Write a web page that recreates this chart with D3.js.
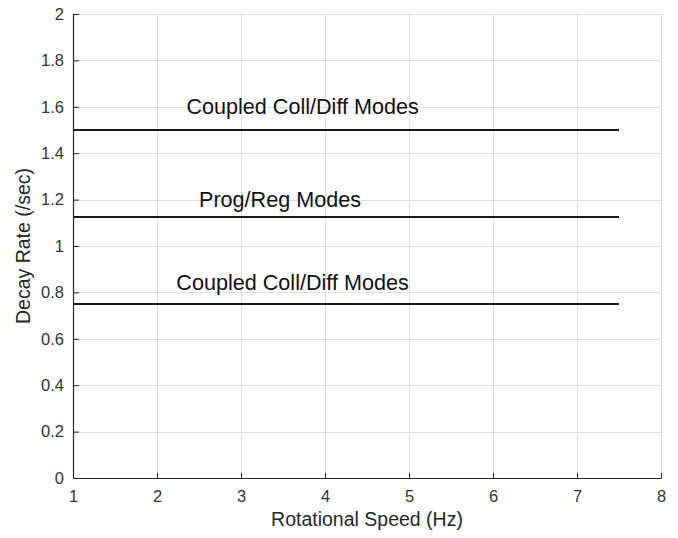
<!DOCTYPE html>
<html>
<head>
    <meta charset="utf-8">
    <script src="https://d3js.org/d3.v7.min.js"></script>
    <style>
        html, body {
            margin: 0;
            padding: 0;
            background: white;
            overflow: hidden;
        }

        svg {
            display: block;
            font-family: "Liberation Sans", Arial, Helvetica, sans-serif;
        }

        .grid line {
            stroke: #dfdfdf;
            stroke-width: 1;
        }

        .axis path, .axis line {
            stroke: #262626;
        }

        .axis text {
            fill: #333;
            font-size: 16.5px;
        }

        .title {
            fill: #262626;
            font-size: 19.5px;
        }

        .mode-line {
            stroke: #1a1a1a;
            stroke-width: 2.2;
            fill: none;
        }

        .mode-label {
            fill: #111;
            font-size: 21.6px;
        }
    </style>
</head>
<body>
<svg width="678" height="538"></svg>
<script>
    // speed range covered by each mode line (Hz)
    var speedRange = [1, 7.5];
    // decay rate of each mode (/sec)
    var decayRates = [1.5, 1.125, 0.75];
    var modeNames = ["Coupled Coll/Diff Modes", "Prog/Reg Modes", "Coupled Coll/Diff Modes"];
    // where the text labels sit, in data units
    var labelSpeed = [2.35, 2.5, 2.23];
    var labelRate = [1.6, 1.2, 0.84];

    var xTicks = [1, 2, 3, 4, 5, 6, 7, 8];
    var yTicks = [0, 0.2, 0.4, 0.6, 0.8, 1, 1.2, 1.4, 1.6, 1.8, 2];

    var margin = {top: 14, right: 17, bottom: 60, left: 73};
    var width = 678 - margin.left - margin.right,
        height = 538 - margin.top - margin.bottom;

    var svg = d3.select("svg");
    var g = svg.append("g")
        .attr("transform", "translate(" + margin.left + "," + margin.top + ")");

    var x = d3.scaleLinear().domain([1, 8]).range([0, width]);
    var y = d3.scaleLinear().domain([0, 2]).range([height, 0]);

    // grid
    var grid = g.append("g").attr("class", "grid");
    grid.selectAll("line.v")
        .data(xTicks)
        .enter().append("line")
        .attr("class", "v")
        .attr("x1", function (d) { return Math.round(x(d)) + 0.5; })
        .attr("x2", function (d) { return Math.round(x(d)) + 0.5; })
        .attr("y1", 0)
        .attr("y2", height);
    grid.selectAll("line.h")
        .data(yTicks)
        .enter().append("line")
        .attr("class", "h")
        .attr("y1", function (d) { return Math.round(y(d)) + 0.5; })
        .attr("y2", function (d) { return Math.round(y(d)) + 0.5; })
        .attr("x1", 0)
        .attr("x2", width);

    // mode lines
    g.selectAll("line.mode-line")
        .data(decayRates)
        .enter().append("line")
        .attr("class", "mode-line")
        .attr("x1", x(speedRange[0]))
        .attr("x2", x(speedRange[1]))
        .attr("y1", function (d) { return y(d); })
        .attr("y2", function (d) { return y(d); });

    g.selectAll("text.mode-label")
        .data(modeNames)
        .enter().append("text")
        .attr("class", "mode-label")
        .attr("x", function (d, i) { return x(labelSpeed[i]); })
        .attr("y", function (d, i) { return y(labelRate[i]); })
        .attr("dy", "0.34em")
        .text(function (d) { return d; });

    // axes, ticks pointing inward
    var xAxis = d3.axisBottom(x)
        .tickValues(xTicks)
        .tickSizeInner(-5)
        .tickSizeOuter(0)
        .tickPadding(12)
        .tickFormat(d3.format("d"));
    g.append("g")
        .attr("class", "axis")
        .attr("transform", "translate(0," + height + ")")
        .call(xAxis);

    var yAxis = d3.axisLeft(y)
        .tickValues(yTicks)
        .tickSizeInner(-6)
        .tickSizeOuter(0)
        .tickPadding(9)
        .tickFormat(function (d) { return d3.format("")(+d.toFixed(1)); });
    g.append("g")
        .attr("class", "axis")
        .call(yAxis);

    g.selectAll(".axis .domain").attr("stroke-width", 1.2);

    // titles
    svg.append("text")
        .attr("class", "title")
        .attr("x", margin.left + width / 2)
        .attr("y", 526)
        .attr("text-anchor", "middle")
        .text("Rotational Speed (Hz)");

    svg.append("text")
        .attr("class", "title")
        .attr("transform", "translate(29.5," + (margin.top + height / 2) + ") rotate(-90)")
        .attr("text-anchor", "middle")
        .text("Decay Rate (/sec)");
</script>
</body>
</html>
